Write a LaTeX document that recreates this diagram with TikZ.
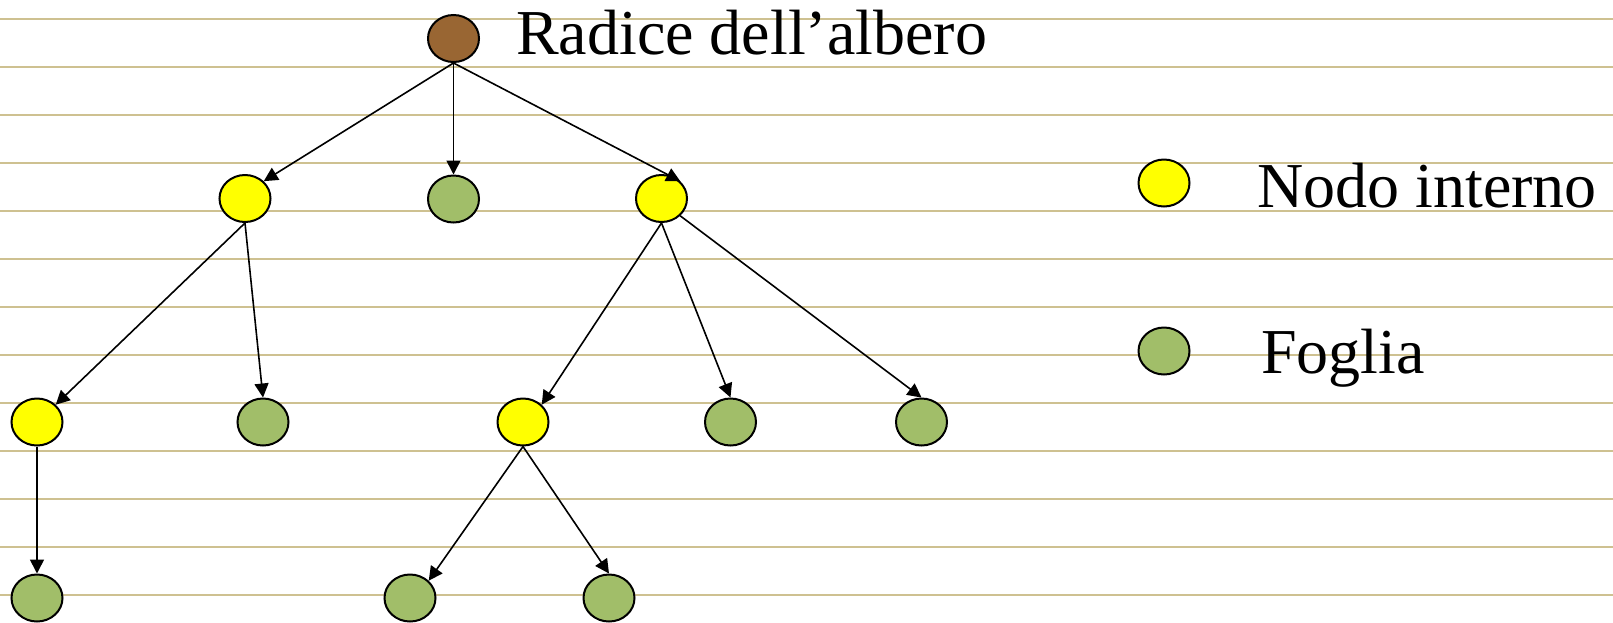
\documentclass[tikz,border=0pt]{standalone}
\usepackage{fontspec}
\setmainfont{Liberation Serif}
\usetikzlibrary{shapes.geometric,arrows.meta}
\definecolor{marrone}{RGB}{153,102,51}
\definecolor{giallo}{RGB}{255,255,0}
\definecolor{verde}{RGB}{161,190,105}
\definecolor{riga}{RGB}{206,193,145}
\begin{document}
\begin{tikzpicture}[x=1pt,y=-1pt,
  nodo/.style={ellipse,draw=black,line width=2pt,inner sep=0pt,minimum width=51pt,minimum height=47pt},
  radice/.style={nodo,fill=marrone},
  interno/.style={nodo,fill=giallo},
  foglia/.style={nodo,fill=verde},
  freccia/.style={line width=1.6pt,-{Triangle[length=14pt,width=14pt]}},
  testo/.style={anchor=base west,inner sep=0pt,font=\fontsize{64}{70}\selectfont}]
\useasboundingbox (0,0) rectangle (1613,622);
% righe del quaderno
\foreach \k in {0,...,12}
  \draw[riga,line width=2.2pt] (0,19+48*\k) -- (1613,19+48*\k);

% albero
\node[radice] (r) at (453.5,38.5) {};
\node[interno] (a) at (245,198.5) {};
\node[foglia] (b) at (453.5,199) {};
\node[interno] (c) at (661.5,198.5) {};
\node[interno] (aa) at (37,422) {};
\node[foglia] (ab) at (263,422) {};
\node[interno] (ca) at (523,422) {};
\node[foglia] (cb) at (730.5,422) {};
\node[foglia] (cc) at (921.5,422) {};
\node[foglia] (aaa) at (37,598) {};
\node[foglia] (caa) at (410,598) {};
\node[foglia] (cab) at (609,598) {};

\draw[freccia] (r.south) -- (a.north east);
\draw[freccia] (r.south) -- (b.north);
\draw[freccia] (r.south) -- (c.north east);
\draw[freccia] (a.south) -- (aa.north east);
\draw[freccia] (a.south) -- (ab.north);
\draw[freccia] (c.south) -- (ca.north east);
\draw[freccia] (c.south) -- (cb.north);
\draw[freccia] (c.south east) -- (cc.north);
\draw[freccia] (aa.south) -- (aaa.north);
\draw[freccia] (ca.south) -- (caa.north east);
\draw[freccia] (ca.south) -- (cab.north);

% legenda
\node[interno] (lgi) at (1164,183) {};
\node[foglia] (lgf) at (1164,351) {};
\node[testo] (tr) at (516,54.5) {Radice dell’albero};
\node[testo] (ti) at (1257,207) {Nodo interno};
\node[testo] (tf) at (1261,373) {Foglia};
\end{tikzpicture}
\end{document}
